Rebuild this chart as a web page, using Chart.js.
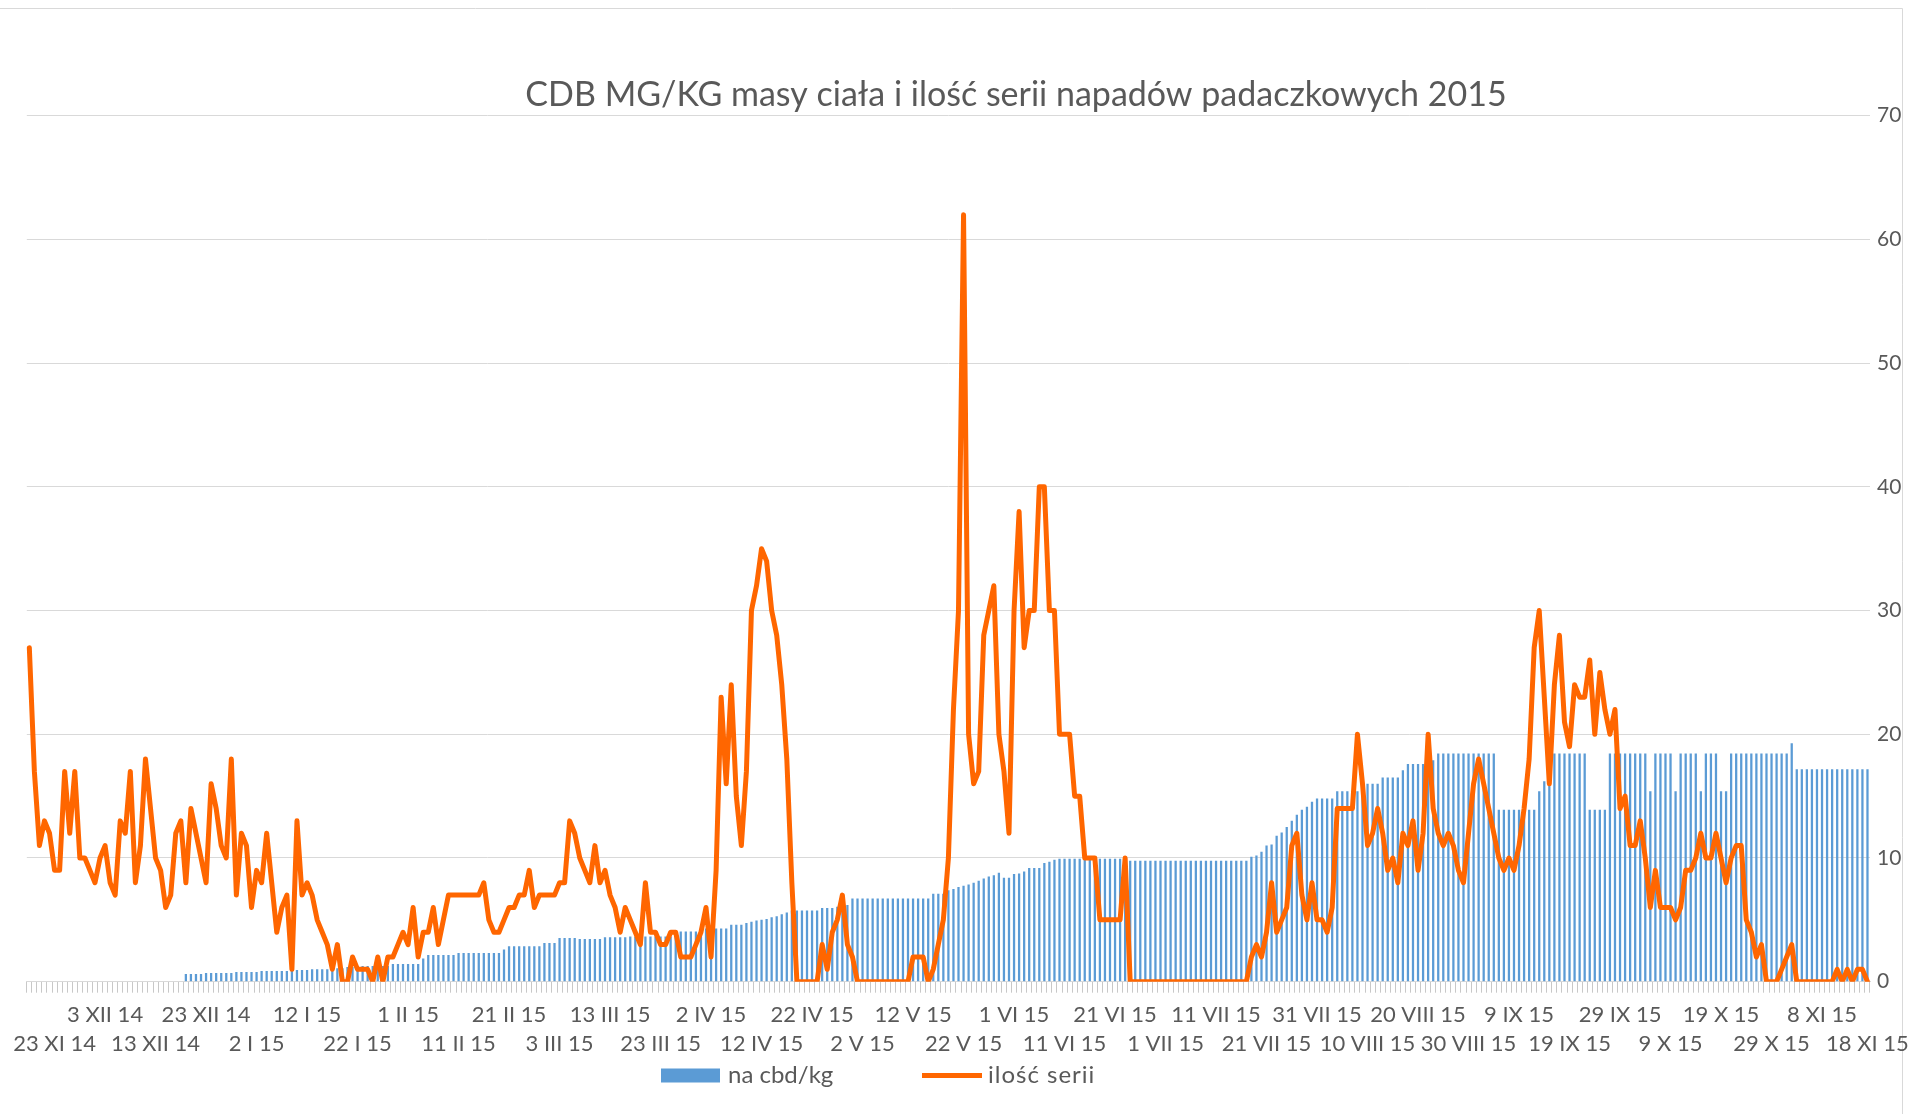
<!DOCTYPE html>
<html>
<head>
<meta charset="utf-8">
<script src="https://cdn.jsdelivr.net/npm/chart.js@4.4.1/dist/chart.umd.min.js"></script>
<style>
  html, body { margin: 0; padding: 0; background: #ffffff; }
  #wrap { width: 1910px; height: 1114px; position: relative; }
</style>
</head>
<body>
<div id="wrap"><canvas id="c" width="1910" height="1114"></canvas></div>
<script>
// ---------------- DATA ----------------
const titleText = 'CDB MG/KG masy ciała i ilość serii napadów padaczkowych 2015';
const seriesNames = ['na cbd/kg', 'ilość serii'];

// tick labels shown every 10 days (alternating two rows)
const tickLabels = ['23 XI 14','3 XII 14','13 XII 14','23 XII 14','2 I 15','12 I 15','22 I 15',
  '1 II 15','11 II 15','21 II 15','3 III 15','13 III 15','23 III 15','2 IV 15','12 IV 15',
  '22 IV 15','2 V 15','12 V 15','22 V 15','1 VI 15','11 VI 15','21 VI 15','1 VII 15',
  '11 VII 15','21 VII 15','31 VII 15','10 VIII 15','20 VIII 15','30 VIII 15','9 IX 15',
  '19 IX 15','29 IX 15','9 X 15','19 X 15','29 X 15','8 XI 15','18 XI 15'];

const yAxisMin = 0, yAxisMax = 70, yAxisStep = 10;

// na cbd/kg (daily, from 23 XI 14)
const cbdPerKg = [
  0,0,0,0,0,0,0,0,0,0,
  0,0,0,0,0,0,0,0,0,0,
  0,0,0,0,0,0,0,0,0,0,
  0,0.62,0.62,0.62,0.62,0.70,0.70,0.70,0.70,0.70,
  0.70,0.78,0.78,0.78,0.78,0.78,0.86,0.86,0.86,0.86,
  0.86,0.86,0.95,0.95,0.95,0.95,1.0,1.0,1.0,1.0,
  1.08,1.08,1.08,1.19,1.19,1.19,1.27,1.27,1.27,1.27,
  1.27,1.27,1.43,1.43,1.43,1.43,1.43,1.43,1.88,2.15,
  2.15,2.15,2.15,2.15,2.15,2.31,2.31,2.31,2.31,2.31,
  2.31,2.31,2.31,2.31,2.6,2.87,2.87,2.87,2.87,2.87,
  2.87,2.87,3.13,3.13,3.13,3.53,3.53,3.53,3.53,3.46,
  3.46,3.46,3.46,3.46,3.6,3.6,3.6,3.6,3.6,3.65,
  3.65,3.65,3.65,3.65,3.65,3.65,3.65,3.65,4.06,4.06,
  4.06,4.06,4.06,4.3,4.3,4.3,4.3,4.3,4.3,4.6,
  4.6,4.6,4.75,4.85,4.95,5.0,5.07,5.2,5.3,5.45,
  5.6,5.75,5.75,5.75,5.75,5.75,5.75,5.96,5.96,5.96,
  6.05,6.1,6.2,6.72,6.72,6.72,6.72,6.72,6.72,6.72,
  6.72,6.72,6.72,6.72,6.72,6.72,6.72,6.72,6.72,7.1,
  7.1,7.1,7.4,7.5,7.65,7.75,7.85,8.0,8.15,8.35,
  8.5,8.6,8.8,8.4,8.4,8.7,8.75,8.9,9.2,9.2,
  9.2,9.6,9.7,9.85,9.94,9.94,9.94,9.94,9.94,9.94,
  9.94,9.94,9.94,9.94,9.94,9.94,9.94,9.94,9.77,9.77,
  9.77,9.77,9.77,9.77,9.77,9.77,9.77,9.77,9.77,9.77,
  9.77,9.77,9.77,9.77,9.77,9.77,9.77,9.77,9.77,9.77,
  9.77,9.77,10.1,10.2,10.5,11.0,11.1,11.8,12.05,12.5,
  13.0,13.5,13.9,14.15,14.55,14.8,14.8,14.8,14.8,15.4,
  15.4,15.4,15.4,15.4,15.4,16.0,16.0,16.0,16.5,16.5,
  16.5,16.5,17.1,17.6,17.6,17.6,17.6,17.75,17.9,18.45,
  18.45,18.45,18.45,18.45,18.45,18.45,18.45,18.45,18.45,18.45,
  18.45,13.9,13.9,13.9,13.9,13.9,13.9,13.9,13.9,15.4,
  16.2,16.2,18.45,18.45,18.45,18.45,18.45,18.45,18.45,13.9,
  13.9,13.9,13.9,18.45,18.45,18.45,18.45,18.45,18.45,18.45,
  18.45,15.4,18.45,18.45,18.45,18.45,15.4,18.45,18.45,18.45,
  18.45,15.4,18.45,18.45,18.45,15.4,15.4,18.45,18.45,18.45,
  18.45,18.45,18.45,18.45,18.45,18.45,18.45,18.45,18.45,19.27,
  17.17,17.17,17.17,17.17,17.17,17.17,17.17,17.17,17.17,17.17,
  17.17,17.17,17.17,17.17,17.17
];

// ilość serii (daily, from 23 XI 14)
const seizureSeries = [
  27,17,11,13,12,9,9,17,12,17,
  10,10,9,8,10,11,8,7,13,12,
  17,8,11,18,14,10,9,6,7,12,
  13,8,14,12,10,8,16,14,11,10,
  18,7,12,11,6,9,8,12,8,4,
  6,7,1,13,7,8,7,5,4,3,
  1,3,0,0,2,1,1,1,0,2,
  0,2,2,3,4,3,6,2,4,4,
  6,3,5,7,7,7,7,7,7,7,
  8,5,4,4,5,6,6,7,7,9,
  6,7,7,7,7,8,8,13,12,10,
  9,8,11,8,9,7,6,4,6,5,
  4,3,8,4,4,3,3,4,4,2,
  2,2,3,4,6,2,9,23,16,24,
  15,11,17,30,32,35,34,30,28,24,
  18,8,0,0,0,0,0,3,1,4,
  5,7,3,2,0,0,0,0,0,0,
  0,0,0,0,0,2,2,2,0,1,
  3,5,10,22,30,62,20,16,17,28,
  30,32,20,17,12,30,38,27,30,30,
  40,40,30,30,20,20,20,15,15,10,
  10,10,5,5,5,5,5,10,0,0,
  0,0,0,0,0,0,0,0,0,0,
  0,0,0,0,0,0,0,0,0,0,
  0,0,2,3,2,4,8,4,5,6,
  11,12,7,5,8,5,5,4,6,14,
  14,14,14,20,16,11,12,14,12,9,
  10,8,12,11,13,9,12,20,14,12,
  11,12,11,9,8,12,16,18,16,14,
  12,10,9,10,9,11,14,18,27,30,
  23,16,24,28,21,19,24,23,23,26,
  20,25,22,20,22,14,15,11,11,13,
  10,6,9,6,6,6,5,6,9,9,
  10,12,10,10,12,10,8,10,11,11,
  5,4,2,3,0,0,0,1,2,3,
  0,0,0,0,0,0,0,0,1,0,
  1,0,1,1,0
];

// categories: one per day starting 23 XI 14
const romanMonths = ['I','II','III','IV','V','VI','VII','VIII','IX','X','XI','XII'];
const categories = cbdPerKg.map((_, i) => {
  const d = new Date(2014, 10, 23 + i);
  return d.getDate() + ' ' + romanMonths[d.getMonth()] + ' ' + String(d.getFullYear()).slice(2);
});

// ---------------- STYLE ----------------
const FONT = 'Lato, "Open Sans", "DejaVu Sans", sans-serif';
const TEXT_COLOR = '#595959';
const BAR_COLOR = '#5B9BD5';
const LINE_COLOR = '#FF6600';

const framePlugin = {
  id: 'frame',
  beforeDraw(chart) {
    const ctx = chart.ctx;
    ctx.save();
    ctx.fillStyle = '#ffffff';
    ctx.fillRect(0, 0, chart.width, chart.height);
    ctx.strokeStyle = '#D9D9D9';
    ctx.lineWidth = 1;
    ctx.beginPath();
    ctx.moveTo(0, 8.5);
    ctx.lineTo(1902.5, 8.5);
    ctx.lineTo(1902.5, chart.height);
    ctx.stroke();
    ctx.restore();
  }
};

const titleShift = {
  id: 'titleShift',
  afterLayout(chart) {
    const t = chart.titleBlock;
    if (t) {
      const w = t.right - t.left;
      const cx = 1016;
      t.left = cx - w / 2;
      t.right = cx + w / 2;
    }
  }
};

const legendPlugin = {
  id: 'customLegend',
  afterDraw(chart) {
    const ctx = chart.ctx;
    const ds = chart.data.datasets;
    const cy = 1075.5;
    ctx.save();
    ctx.font = '24px ' + FONT;
    ctx.textBaseline = 'middle';
    ctx.textAlign = 'left';
    // bar item
    ctx.fillStyle = ds[0].backgroundColor;
    ctx.fillRect(661, cy - 7, 59, 14);
    ctx.fillStyle = TEXT_COLOR;
    ctx.fillText(ds[0].label, 728, cy);
    // line item
    ctx.strokeStyle = ds[1].borderColor;
    ctx.lineWidth = 5;
    ctx.beginPath();
    ctx.moveTo(922, cy);
    ctx.lineTo(982, cy);
    ctx.stroke();
    ctx.fillStyle = TEXT_COLOR;
    try { ctx.letterSpacing = '1px'; } catch (e) {}
    ctx.fillText(ds[1].label, 988, cy);
    ctx.restore();
  }
};

function build() {
  Chart.defaults.font.family = FONT;
  Chart.defaults.color = TEXT_COLOR;
  const lastIdx = categories.length - 1;

  new Chart(document.getElementById('c'), {
    type: 'bar',
    data: {
      labels: categories,
      datasets: [
        {
          type: 'bar',
          label: seriesNames[0],
          data: cbdPerKg,
          backgroundColor: BAR_COLOR,
          barPercentage: 0.45,
          categoryPercentage: 1.0,
          order: 2
        },
        {
          type: 'line',
          label: seriesNames[1],
          data: seizureSeries,
          borderColor: LINE_COLOR,
          backgroundColor: LINE_COLOR,
          borderWidth: 5,
          pointRadius: 0,
          tension: 0,
          fill: false,
          borderJoinStyle: 'round',
          borderCapStyle: 'round',
          order: 1
        }
      ]
    },
    options: {
      responsive: false,
      animation: false,
      events: [],
      layout: { padding: { left: 26.8, right: 0, top: 0, bottom: 55.8 } },
      plugins: {
        legend: { display: false },
        tooltip: { enabled: false },
        title: {
          display: true,
          text: titleText,
          color: TEXT_COLOR,
          font: { size: 34, weight: 'normal', lineHeight: 1.2 },
          padding: { top: 74.6, bottom: 0.3 }
        }
      },
      scales: {
        x: {
          offset: true,
          grid: {
            display: true,
            drawOnChartArea: false,
            drawTicks: true,
            tickLength: 11,
            color: '#C8C8C8',
            offset: true
          },
          border: { display: true, color: '#D9D9D9' },
          ticks: {
            autoSkip: false,
            maxRotation: 0,
            minRotation: 0,
            padding: 7.5,
            color: TEXT_COLOR,
            font: { size: 22, lineHeight: '29px' },
            callback: function (value, index) {
              let k = -1;
              if (index % 10 === 5) k = (index - 5) / 10;
              if (index === lastIdx) k = tickLabels.length - 1;
              if (k < 0 || k >= tickLabels.length) return '';
              return (k % 2 === 1) ? [tickLabels[k], ''] : ['', tickLabels[k]];
            }
          },
          afterFit: function (s) { s.height = 76.5; s.paddingLeft = 0; s.paddingRight = 0; }
        },
        y: {
          position: 'right',
          min: yAxisMin,
          max: yAxisMax,
          ticks: { stepSize: yAxisStep, padding: 7, color: TEXT_COLOR, font: { size: 21 } },
          grid: { color: '#D9D9D9', drawTicks: false, lineWidth: 1 },
          border: { display: false },
          afterFit: function (s) { s.width = 40; }
        }
      }
    },
    plugins: [framePlugin, titleShift, legendPlugin]
  });
}

if (document.fonts && document.fonts.load) {
  Promise.all([document.fonts.load('22px Lato'), document.fonts.load('34px Lato')])
    .then(build, build);
} else {
  build();
}
</script>
</body>
</html>
